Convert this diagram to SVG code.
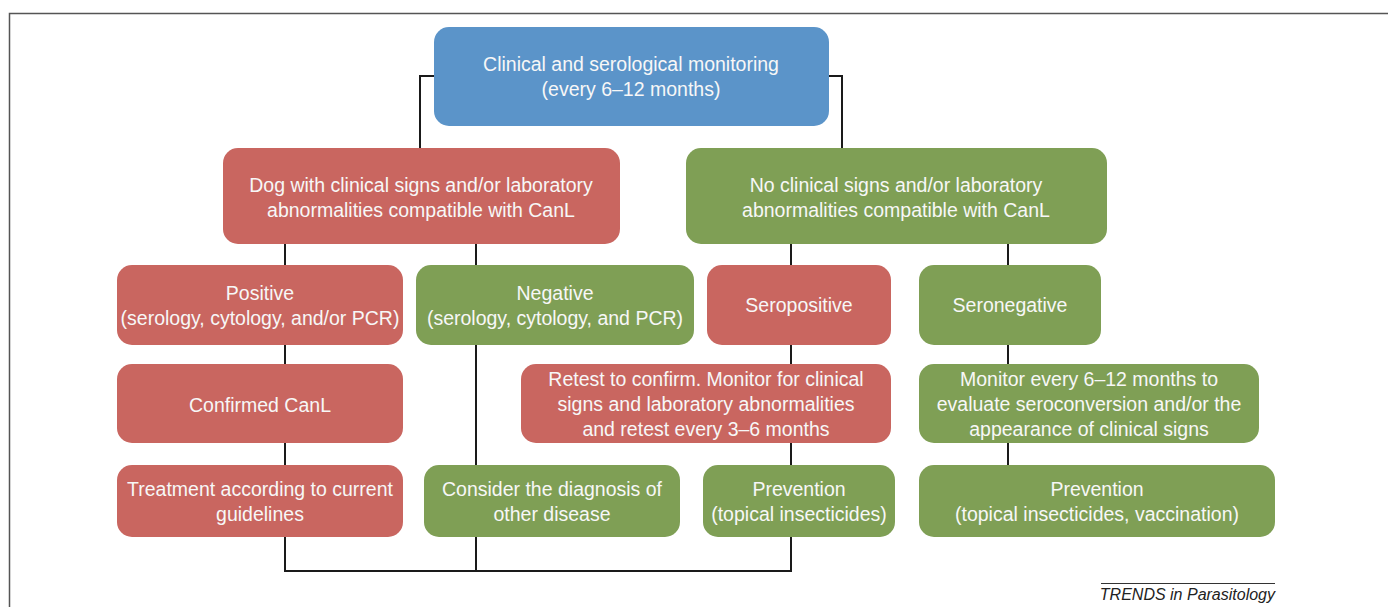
<svg xmlns="http://www.w3.org/2000/svg" width="1388" height="607" viewBox="0 0 1388 607">
<style>
.b{fill:#5b94c9}.r{fill:#c96660}.g{fill:#7f9f55}
text{font-family:"Liberation Sans",Arial,sans-serif;font-size:19.5px;fill:#f7f7f7;text-anchor:middle}
.c{fill:none;stroke:#1a1a1a;stroke-width:2}
</style>
<rect width="1388" height="607" fill="#fff"/>
<path d="M9.5,607 V13.5 H1388" fill="none" stroke="#555" stroke-width="1.5"/>
<g id="connectors" class="c">
<path d="M434,76 H420 V148"/>
<path d="M829,76 H842 V148"/>
<path d="M285,244 V465"/>
<path d="M476,244 V465"/>
<path d="M791,244 V465"/>
<path d="M1008,244 V465"/>
<path d="M285,537 V571 H791 V537"/>
<path d="M476,537 V571"/>
</g>
<g id="n_top"><rect class="b" x="434" y="27" width="395" height="99" rx="15"/><text x="631" y="71">Clinical and serological monitoring</text><text x="631" y="96">(every 6–12 months)</text></g>
<g id="n_dog"><rect class="r" x="223" y="148" width="397" height="96" rx="15"/><text x="421" y="192">Dog with clinical signs and/or laboratory</text><text x="421" y="217">abnormalities compatible with CanL</text></g>
<g id="n_noclin"><rect class="g" x="686" y="148" width="421" height="96" rx="15"/><text x="896" y="192">No clinical signs and/or laboratory</text><text x="896" y="217">abnormalities compatible with CanL</text></g>
<g id="n_pos"><rect class="r" x="117" y="265" width="286" height="80" rx="15"/><text x="260" y="300">Positive</text><text x="260" y="325">(serology, cytology, and/or PCR)</text></g>
<g id="n_neg"><rect class="g" x="416" y="265" width="278" height="80" rx="15"/><text x="555" y="300">Negative</text><text x="555" y="325">(serology, cytology, and PCR)</text></g>
<g id="n_seropos"><rect class="r" x="707" y="265" width="184" height="80" rx="15"/><text x="799" y="312">Seropositive</text></g>
<g id="n_seroneg"><rect class="g" x="919" y="265" width="182" height="80" rx="15"/><text x="1010" y="312">Seronegative</text></g>
<g id="n_conf"><rect class="r" x="117" y="364" width="286" height="79" rx="15"/><text x="260" y="412">Confirmed CanL</text></g>
<g id="n_retest"><rect class="r" x="521" y="364" width="370" height="79" rx="15"/><text x="706" y="386">Retest to confirm. Monitor for clinical</text><text x="706" y="411">signs and laboratory abnormalities</text><text x="706" y="436">and retest every 3–6 months</text></g>
<g id="n_monitor"><rect class="g" x="919" y="364" width="340" height="79" rx="15"/><text x="1089" y="386">Monitor every 6–12 months to</text><text x="1089" y="411">evaluate seroconversion and/or the</text><text x="1089" y="436">appearance of clinical signs</text></g>
<g id="n_treat"><rect class="r" x="117" y="465" width="286" height="72" rx="15"/><text x="260" y="496">Treatment according to current</text><text x="260" y="521">guidelines</text></g>
<g id="n_consider"><rect class="g" x="424" y="465" width="256" height="72" rx="15"/><text x="552" y="496">Consider the diagnosis of</text><text x="552" y="521">other disease</text></g>
<g id="n_prev1"><rect class="g" x="703" y="465" width="192" height="72" rx="15"/><text x="799" y="496">Prevention</text><text x="799" y="521">(topical insecticides)</text></g>
<g id="n_prev2"><rect class="g" x="919" y="465" width="356" height="72" rx="15"/><text x="1097" y="496">Prevention</text><text x="1097" y="521">(topical insecticides, vaccination)</text></g>
<g id="footer"><path d="M1101,583.5 H1275" stroke="#333" stroke-width="1"/><text x="1275" y="600" style="fill:#222;font-size:16px;font-style:italic;text-anchor:end">TRENDS in Parasitology</text></g>
</svg>
